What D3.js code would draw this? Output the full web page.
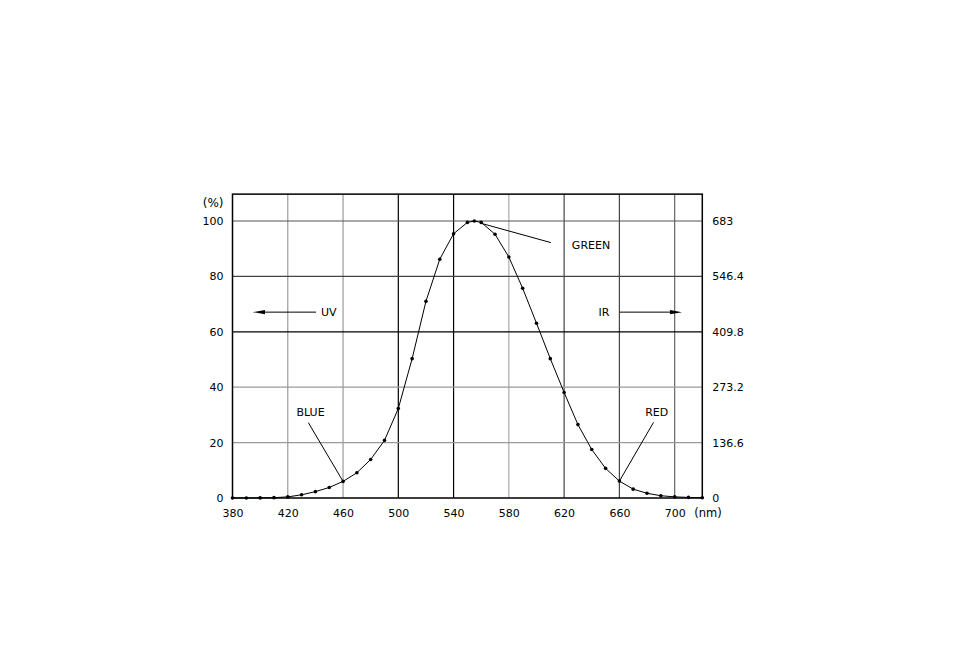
<!DOCTYPE html>
<html><head><meta charset="utf-8">
<script src="https://cdn.jsdelivr.net/npm/d3@7"></script>
<style>
html,body{margin:0;padding:0;background:#fff;}
text{font-family:"DejaVu Sans",sans-serif;font-size:11px;fill:#000;}
</style></head>
<body><svg id="c" width="954" height="652"></svg>
<script>
// Data: relative luminous efficiency (%) vs wavelength (nm)
const wavelengths = [380,390,400,410,420,430,440,450,460,470,480,490,500,510,520,530,540,550,555,560,570,580,590,600,610,620,630,640,650,660,670,680,690,700,710,720];
const efficiency  = [0.004,0.012,0.04,0.12,0.4,1.16,2.3,3.8,6.0,9.1,13.9,20.8,32.3,50.3,71.0,86.2,95.4,99.5,100,99.5,95.2,87.0,75.7,63.1,50.3,38.1,26.5,17.5,10.7,6.1,3.2,1.7,0.82,0.41,0.21,0.1];
const xTicks = [380,420,460,500,540,580,620,660,700];
const yTicks = [0,20,40,60,80,100];
const rightTickLabels = ["0","136.6","273.2","409.8","546.4","683"];
const vGridColors = {420:"#9a9a9a",460:"#9a9a9a",500:"#000",540:"#000",580:"#aaaaaa",620:"#444",660:"#444",700:"#666"};
const hGridColors = {20:"#9a9a9a",40:"#9a9a9a",60:"#000",80:"#444",100:"#555"};

const svg = d3.select("#c");
const x = d3.scaleLinear().domain([380,720]).range([232.5,702.3]);
const y = d3.scaleLinear().domain([0,100]).range([498,221]);
const yTop = y(109.7);

// grid
svg.selectAll(".vg").data(xTicks.filter(d=>d>380)).enter().append("line")
  .attr("x1",d=>x(d)).attr("x2",d=>x(d)).attr("y1",yTop).attr("y2",y(0))
  .attr("stroke",d=>vGridColors[d]).attr("stroke-width",1.2);
svg.selectAll(".hg").data(yTicks.filter(d=>d>0)).enter().append("line")
  .attr("x1",x(380)).attr("x2",x(720)).attr("y1",d=>y(d)).attr("y2",d=>y(d))
  .attr("stroke",d=>hGridColors[d]).attr("stroke-width",1.2);

// frame
svg.append("rect").attr("x",x(380)).attr("y",yTop).attr("width",x(720)-x(380)).attr("height",y(0)-yTop)
  .attr("fill","none").attr("stroke","#000").attr("stroke-width",1.5);

// axes labels
const gx = svg.append("g").attr("transform",`translate(0,${y(0)})`)
  .call(d3.axisBottom(x).tickValues(xTicks).tickSize(0).tickPadding(11));
gx.select(".domain").remove();
gx.selectAll("text").style("font-size","11px").style("font-family","DejaVu Sans");
svg.append("text").attr("x",x(720)-8).attr("y",y(0)+19).style("font-size","11.5px").text("(nm)");

const gl = svg.append("g").attr("transform",`translate(${x(380)},0)`)
  .call(d3.axisLeft(y).tickValues(yTicks).tickSize(0).tickPadding(9));
gl.select(".domain").remove();
gl.selectAll("text").style("font-size","11px").style("font-family","DejaVu Sans");
svg.append("text").attr("x",x(380)-9).attr("y",y(100)-14).attr("text-anchor","end").style("font-size","12px").text("(%)");

const gr = svg.append("g").attr("transform",`translate(${x(720)},0)`)
  .call(d3.axisRight(y).tickValues(yTicks).tickSize(0).tickPadding(10).tickFormat((d,i)=>rightTickLabels[i]));
gr.select(".domain").remove();
gr.selectAll("text").style("font-size","11px").style("font-family","DejaVu Sans");

// curve
const pts = wavelengths.map((w,i)=>[w,efficiency[i]]);
svg.append("path").datum(pts)
  .attr("d",d3.line().x(d=>x(d[0])).y(d=>y(d[1])))
  .attr("fill","none").attr("stroke","#000").attr("stroke-width",1);
svg.selectAll(".pt").data(pts).enter().append("circle")
  .attr("cx",d=>x(d[0])).attr("cy",d=>y(d[1])).attr("r",1.8).attr("fill","#000");

// annotations
const ann = svg.append("g").attr("stroke","#000").attr("stroke-width",1);
// GREEN
ann.append("line").attr("x1",x(559)).attr("y1",y(99.3)).attr("x2",x(610.4)).attr("y2",y(92.2));
svg.append("text").attr("x",x(625.6)).attr("y",y(91.2)).attr("dy","0.35em").text("GREEN");
// BLUE
ann.append("line").attr("x1",x(460)).attr("y1",y(6)).attr("x2",x(434.9)).attr("y2",y(27.2));
svg.append("text").attr("x",x(436.5)).attr("y",y(31.1)).attr("dy","0.35em").attr("text-anchor","middle").text("BLUE");
// RED
ann.append("line").attr("x1",x(660)).attr("y1",y(6.1)).attr("x2",x(684.7)).attr("y2",y(27.3));
svg.append("text").attr("x",x(687)).attr("y",y(31.1)).attr("dy","0.35em").attr("text-anchor","middle").text("RED");
// UV arrow
const yUV = y(67.1);
ann.append("line").attr("x1",x(402)).attr("y1",yUV).attr("x2",x(440.5)).attr("y2",yUV);
svg.append("path").attr("d",`M${x(394.8)},${yUV} L${x(403.5)},${yUV-2.2} L${x(403.5)},${yUV+2.2} Z`).attr("fill","#000");
svg.append("text").attr("x",x(444)).attr("y",yUV).attr("dy","0.35em").text("UV");
// IR arrow
ann.append("line").attr("x1",x(660.1)).attr("y1",yUV).attr("x2",x(697.5)).attr("y2",yUV);
svg.append("path").attr("d",`M${x(705.3)},${yUV} L${x(696.6)},${yUV-2.2} L${x(696.6)},${yUV+2.2} Z`).attr("fill","#000");
svg.append("text").attr("x",x(652.8)).attr("y",yUV).attr("dy","0.35em").attr("text-anchor","end").text("IR");
</script></body></html>
